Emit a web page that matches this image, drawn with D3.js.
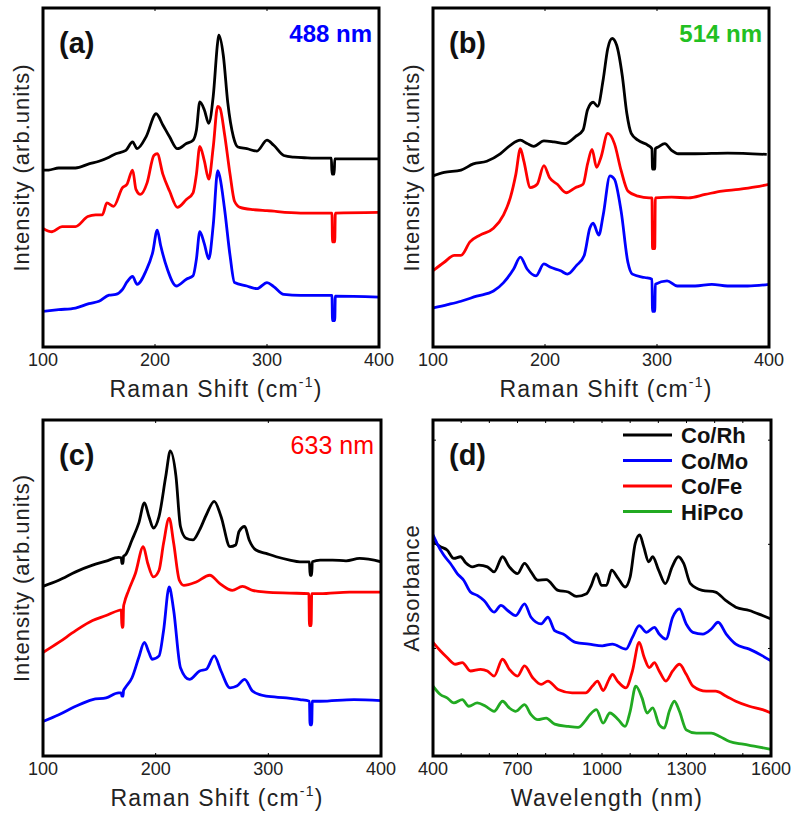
<!DOCTYPE html>
<html>
<head>
<meta charset="utf-8">
<script src="https://cdn.jsdelivr.net/npm/d3@7"></script>
<style>
  body { margin: 0; background: #fff; }
  svg text { font-family: "Liberation Sans", Arial, sans-serif; }
</style>
</head>
<body>
<div id="chart"></div>
<script>
// ---- data: [x, intensity in arbitrary units] ----
const ramanA_CoRh = [[100,52.2],[105,52.2],[114,52.8],[129,52.8],[141,54],[150,54.8],[159,56],[165,57],[174,58],[180,60.5],[184,58.5],[192,62],[201,68.8],[207,65.5],[213,62],[220,58.5],[228,60],[234,61],[237,64],[240,72.3],[244,70],[248,66],[252,74],[256,90],[257,92],[261,86],[265,72],[270,62],[274,59],[282,58.5],[291,57.8],[300,61],[306,59.5],[315,56.5],[324,56],[336,55.8],[348,55.7],[357.5,55.7],[358,51],[360,51],[360.5,55.5],[377,55.5],[400,55.5]];
const ramanA_CoFe = [[100,35],[108,34],[117,35.5],[129,35.5],[140,38.5],[147,39],[153,39],[157,42.5],[163,41.5],[171,47],[175,48],[180,52.2],[183,46.5],[187,45],[193,48.5],[199,56.5],[202,57],[207,51],[213,46],[220,41.2],[228,43.5],[234,45.5],[237,51],[240,59.2],[244,55],[248,49.5],[252,59],[256,71],[258,70.5],[262,63],[267,51],[271,43],[276,41.2],[288,40.5],[300,40.2],[330,39.5],[358,39.5],[358.5,31],[360.5,31],[361,39.5],[400,39.7]];
const ramanA_CoMo = [[100,10.5],[114,11],[129,11.5],[141,12.8],[150,13.5],[159,15.3],[165,15.5],[171,17],[175,19.2],[180,20.8],[184,18.5],[192,22.5],[198,28],[202,34.5],[205,30],[211,23],[219,18],[228,20],[234,21],[237,26],[240,34],[244,30.5],[248,26],[252,36],[256,52],[258,50],[262,41],[267,27],[271,19],[282,18],[291,17.2],[300,19],[306,17.8],[315,15.5],[330,15.2],[358,15.2],[358.5,7.8],[360.5,7.8],[361,15],[400,14.7]];

const ramanB_CoRh = [[100,50.5],[110,51.5],[125,52.2],[136,54],[148,54.8],[160,57],[169,59.5],[178,61],[184,60],[190,59.2],[199,60.8],[208,60.5],[218,60],[227,62],[234,64],[238,70],[243,72.2],[247,71],[252,79],[256,88],[260,91],[264,89],[269,80],[273,69],[277,63],[283,61],[292,59.5],[295.5,58.5],[296,52.5],[298,52.5],[298.5,58.5],[301,59],[307,60],[313,58],[319,57],[334,57],[363,57.2],[398,56.8]];
const ramanB_CoFe = [[100,22.5],[110,25],[119,27],[125,27],[133,31],[142,33],[154,35],[163,39],[169,44],[174,51],[178,58.5],[181,55],[187,47],[193,48],[199,53.5],[204,50],[211,48],[219,45.5],[227,47],[234,48],[238,54],[242,58.3],[246,53],[250,56],[256,63],[262,60],[268,52],[274,46],[283,44.5],[293,44],[295.5,44],[296,29],[298,29],[298.5,44],[313,44.2],[328,44],[343,45],[358,46],[373,46.5],[388,47.2],[400,48]];
const ramanB_CoMo = [[100,11.5],[113,12.5],[125,13.5],[139,15],[154,16.5],[163,19],[172,23],[178,26.5],[184,23],[192,21],[199,24.5],[205,23.5],[214,22.5],[220,21.5],[228,24],[235,27],[240,35],[243,36.5],[248,33],[252,39],[258,50.5],[262,49.5],[268,40],[274,25],[278,21.5],[289,20.5],[295.5,20],[296,10.5],[298,10.5],[298.5,18.5],[309,19.5],[318,18],[334,18],[349,18.5],[363,18],[381,18],[400,18.5]];

const ramanC_CoRh = [[100,50.5],[114,52.3],[129,54.8],[144,56.8],[156,58],[167,59.1],[169.5,59],[170,57.3],[171,57.3],[171.5,59.5],[173,59.8],[179,64.3],[185,69.3],[190,75.3],[194,71.3],[198,67.8],[203,71.3],[209,83.3],[213,90.8],[218,83.3],[222,68.3],[227,64.8],[233,64.3],[239,67.3],[245,71.8],[252,75.8],[258,71.3],[266,62.3],[271,62.8],[274,66.8],[279,68.3],[283,64.3],[289,61.3],[298,60.3],[307,59.3],[319,58.3],[328,57.8],[336.5,57.8],[337,53.8],[338.5,53.8],[339,57.8],[346,58.3],[357,58.3],[369,58.1],[381,58.8],[400,57.8]];
const ramanC_CoFe = [[100,30.8],[114,33.8],[129,37.3],[144,40.3],[156,41.8],[167,43.3],[169.5,43.5],[170,38.3],[171,38.3],[171.5,44.5],[172,45.3],[176,49.3],[182,54.3],[189,62.3],[193,57.3],[198,53.3],[203,55.3],[207,63.3],[212,70.8],[216,63.3],[221,52.3],[225,50.8],[236,51.8],[248,53.8],[257,51.3],[268,49.3],[277,50.5],[286,49.3],[298,48.8],[319,48.5],[336,48.3],[336.5,38.8],[338,38.8],[338.5,48.3],[346,48.3],[372,48.8],[400,48.8]];
const ramanC_CoMo = [[100,10.3],[114,12.3],[129,14.8],[144,16.8],[156,17.3],[167,18.8],[169.5,18.8],[170,17.8],[171,17.8],[171.5,19.5],[173,20.3],[179,23.3],[185,29.3],[190,33.8],[194,30.8],[197,28.8],[203,29.8],[207,37.3],[212,50.3],[216,43.3],[222,26.3],[230,22.8],[239,25.3],[245,25.8],[252,29.8],[258,25.3],[266,20.3],[272,20.8],[279,22.8],[286,19.3],[298,17.8],[316,17.3],[328,16.8],[336.5,16.3],[337,9.3],[338.5,9.3],[339,16.3],[346,16.3],[376,16.8],[400,16.5]];

const absD_CoRh = [[402,63.8],[426,62.3],[450,61.3],[474,58.8],[498,59.3],[516,57.5],[540,56.3],[563,56.8],[593,56.3],[617,54.8],[647,59.3],[671,56.3],[700,54.3],[725,57.3],[748,54.8],[772,52.3],[802,52.5],[844,49.3],[880,48.8],[909,47.5],[945,48.3],[962,50.8],[980,54.3],[998,50.8],[1016,50.8],[1034,55.3],[1058,52.8],[1082,50.3],[1100,53.3],[1118,63.3],[1134,65.8],[1148,62.3],[1166,57.8],[1180,59.3],[1201,55.3],[1225,51.3],[1249,56.3],[1271,59.3],[1290,57.3],[1314,51.3],[1356,49.3],[1403,48.8],[1439,46.3],[1475,44.3],[1523,43.3],[1570,41.8],[1600,40.8]];
const absD_CoMo = [[400,65.8],[414,63.3],[438,59.8],[462,57.3],[486,54.3],[509,52.3],[533,48.8],[557,47.8],[581,46.3],[617,42.8],[641,44.8],[665,43.3],[694,41.8],[725,45.3],[748,41.3],[784,39.3],[808,41.3],[832,37.3],[862,36.3],[906,33.8],[954,33.3],[1001,32.8],[1037,33.3],[1085,31.8],[1108,35.3],[1132,38.8],[1158,36.8],[1186,38.3],[1203,36.3],[1227,34.8],[1251,41.3],[1275,43.8],[1299,39.3],[1323,36.8],[1358,36.3],[1388,37.8],[1412,39.8],[1441,36.3],[1475,33.3],[1523,31.8],[1570,29.8],[1600,28.3]];
const absD_CoFe = [[400,33.8],[426,31.3],[450,29.3],[480,27.3],[504,27.8],[533,25.3],[569,25.8],[593,25.3],[617,23.8],[647,28.8],[671,25.8],[700,23.8],[725,26.8],[754,23.3],[784,21.3],[808,22.3],[844,19.8],[894,18.8],[942,18.8],[966,20.8],[984,22.3],[1004,19.5],[1025,22.8],[1037,24.3],[1055,22.3],[1085,20.3],[1108,25.3],[1132,33.8],[1150,29.3],[1168,26.3],[1186,27.8],[1203,25.3],[1227,22.3],[1251,25.3],[1275,27.3],[1299,24.3],[1323,20.8],[1370,19.3],[1403,19.3],[1441,17.8],[1475,16.3],[1523,14.8],[1570,13.8],[1600,12.8]];
const absD_HiPco = [[400,20.8],[426,18.3],[450,17.3],[474,15.8],[504,16.8],[527,14.8],[557,15.8],[587,14.8],[617,13.3],[647,16.3],[671,14.3],[694,13.3],[725,15.3],[748,12.3],[772,10.8],[802,11.3],[832,9.5],[880,8.8],[915,8.5],[939,10.3],[957,12.3],[980,13.8],[1004,9.8],[1028,12.8],[1058,10.8],[1082,8.8],[1100,13.3],[1120,20.8],[1142,17.3],[1160,12.8],[1180,14.3],[1203,9.3],[1221,8.3],[1239,13.3],[1257,16.3],[1275,13.3],[1299,7.8],[1335,6.8],[1388,6.8],[1418,5.8],[1453,4.3],[1501,3.5],[1549,2.8],[1600,2.0]];

const samples = ["Co/Rh", "Co/Mo", "Co/Fe", "HiPco"];
const sampleColors = ["#000000", "#0000ff", "#ff0000", "#22aa22"];
const ramanTicks = [100, 200, 300, 400];
const wavelengthTicks = [400, 700, 1000, 1300, 1600];
const wavelengthMinor = [500, 600, 800, 900, 1100, 1200, 1400, 1500];

const color = d3.scaleOrdinal().domain(samples).range(sampleColors);

const svg = d3.select("#chart").append("svg")
    .attr("width", 795)
    .attr("height", 819);

function drawPanel(p) {
    const x = d3.scaleLinear().domain(p.xDomain).range([p.left, p.left + p.width]);
    const y = d3.scaleLinear().domain([0, 100]).range([p.top + p.height, p.top]);
    const g = svg.append("g");

    const line = d3.line()
        .x(d => x(d[0]))
        .y(d => y(d[1]))
        .curve(d3.curveMonotoneX);

    const clipId = "clip_" + p.key;
    g.append("clipPath").attr("id", clipId)
        .append("rect")
        .attr("x", p.left).attr("y", p.top)
        .attr("width", p.width).attr("height", p.height);

    g.append("g").attr("clip-path", "url(#" + clipId + ")")
        .selectAll("path")
        .data(p.series)
        .join("path")
        .attr("d", d => line(d.values))
        .attr("fill", "none")
        .attr("stroke", d => color(d.name))
        .attr("stroke-width", 2.8)
        .attr("stroke-linejoin", "round");

    // small inward ticks, bottom and top
    const allTicks = p.ticks.concat(p.minor || []);
    g.selectAll(".tb")
        .data(allTicks)
        .join("line")
        .attr("x1", d => x(d)).attr("x2", d => x(d))
        .attr("y1", p.top + p.height).attr("y2", p.top + p.height - 3)
        .attr("stroke", "#000").attr("stroke-width", 1);
    g.selectAll(".tt")
        .data(allTicks)
        .join("line")
        .attr("x1", d => x(d)).attr("x2", d => x(d))
        .attr("y1", p.top).attr("y2", p.top + 3)
        .attr("stroke", "#000").attr("stroke-width", 1);

    if (p.yTicks) {
        g.selectAll(".ty")
            .data(p.yTicks)
            .join("line")
            .attr("x1", p.left).attr("x2", p.left + 3)
            .attr("y1", d => y(d)).attr("y2", d => y(d))
            .attr("stroke", "#000").attr("stroke-width", 1);
        g.selectAll(".ty2")
            .data(p.yTicks)
            .join("line")
            .attr("x1", p.left + p.width).attr("x2", p.left + p.width - 3)
            .attr("y1", d => y(d)).attr("y2", d => y(d))
            .attr("stroke", "#000").attr("stroke-width", 1);
    }

    // frame
    g.append("rect")
        .attr("x", p.left).attr("y", p.top)
        .attr("width", p.width).attr("height", p.height)
        .attr("fill", "none")
        .attr("stroke", "#000")
        .attr("stroke-width", 3);

    g.selectAll(".tl")
        .data(p.ticks)
        .join("text")
        .attr("x", d => x(d))
        .attr("y", p.top + p.height + 19)
        .attr("text-anchor", "middle")
        .attr("font-size", 18)
        .attr("fill", "#222")
        .text(d => d);

    const xt = g.append("text")
        .attr("x", p.left + p.width / 2 + 5)
        .attr("y", p.top + p.height + 50)
        .attr("text-anchor", "middle")
        .attr("font-size", 23)
        .attr("letter-spacing", 1.2)
        .attr("fill", "#222");
    xt.append("tspan").text(p.xLabel);
    if (p.sup) {
        xt.append("tspan").attr("font-size", 14).attr("dy", -10).text(p.sup);
        xt.append("tspan").attr("dy", 10).text(")");
    }

    g.append("text")
        .attr("transform", "translate(" + (p.left - 14) + "," + (p.top + p.height / 2 - p.yShift) + ") rotate(-90)")
        .attr("text-anchor", "middle")
        .attr("font-size", 22)
        .attr("letter-spacing", 1)
        .attr("fill", "#222")
        .text(p.yLabel);

    g.append("text")
        .attr("x", p.left + 16)
        .attr("y", p.top + 45)
        .attr("font-size", 29)
        .attr("font-weight", "bold")
        .attr("fill", "#111")
        .text(p.tag);

    if (p.laser) {
        g.append("text")
            .attr("x", p.left + p.width - 7)
            .attr("y", p.top + 34)
            .attr("text-anchor", "end")
            .attr("font-size", p.laserSize)
            .attr("font-weight", p.laserWeight)
            .attr("fill", p.laserColor)
            .text(p.laser);
    }
    return { x: x, y: y, g: g };
}

drawPanel({
    key: "a", tag: "(a)", left: 43, top: 8, width: 336, height: 339,
    xDomain: [100, 400], ticks: ramanTicks,
    xLabel: "Raman Shift (cm", sup: "-1", yLabel: "Intensity (arb.units)", yShift: 10,
    laser: "488 nm", laserColor: "#0000ff", laserWeight: "bold", laserSize: 24,
    series: [
        { name: "Co/Rh", values: ramanA_CoRh },
        { name: "Co/Fe", values: ramanA_CoFe },
        { name: "Co/Mo", values: ramanA_CoMo }
    ]
});

drawPanel({
    key: "b", tag: "(b)", left: 433, top: 8, width: 336, height: 339,
    xDomain: [100, 400], ticks: ramanTicks,
    xLabel: "Raman Shift (cm", sup: "-1", yLabel: "Intensity (arb.units)", yShift: 10,
    laser: "514 nm", laserColor: "#22c022", laserWeight: "bold", laserSize: 24,
    series: [
        { name: "Co/Rh", values: ramanB_CoRh },
        { name: "Co/Fe", values: ramanB_CoFe },
        { name: "Co/Mo", values: ramanB_CoMo }
    ]
});

drawPanel({
    key: "c", tag: "(c)", left: 43, top: 420, width: 338, height: 336,
    xDomain: [100, 400], ticks: ramanTicks,
    xLabel: "Raman Shift (cm", sup: "-1", yLabel: "Intensity (arb.units)", yShift: 10,
    laser: "633 nm", laserColor: "#ff0000", laserWeight: "normal", laserSize: 25,
    series: [
        { name: "Co/Rh", values: ramanC_CoRh },
        { name: "Co/Fe", values: ramanC_CoFe },
        { name: "Co/Mo", values: ramanC_CoMo }
    ]
});

const pd = drawPanel({
    key: "d", tag: "(d)", left: 433, top: 420, width: 338, height: 336,
    xDomain: [400, 1600], ticks: wavelengthTicks, minor: wavelengthMinor,
    yTicks: [94, 63, 32],
    xLabel: "Wavelength (nm)", yLabel: "Absorbance", yShift: 0,
    series: [
        { name: "Co/Rh", values: absD_CoRh },
        { name: "Co/Mo", values: absD_CoMo },
        { name: "Co/Fe", values: absD_CoFe },
        { name: "HiPco", values: absD_HiPco }
    ]
});

// legend for panel (d)
const legend = pd.g.append("g")
    .selectAll("g")
    .data(samples)
    .join("g")
    .attr("transform", (d, i) => "translate(623," + (443 + i * 25.5) + ")");
legend.append("line")
    .attr("x1", 0).attr("x2", 49)
    .attr("y1", -8).attr("y2", -8)
    .attr("stroke", d => color(d))
    .attr("stroke-width", 2.8);
legend.append("text")
    .attr("x", 58)
    .attr("y", 0)
    .attr("font-size", 22)
    .attr("font-weight", "bold")
    .attr("fill", "#111")
    .text(d => d);
</script>
</body>
</html>
